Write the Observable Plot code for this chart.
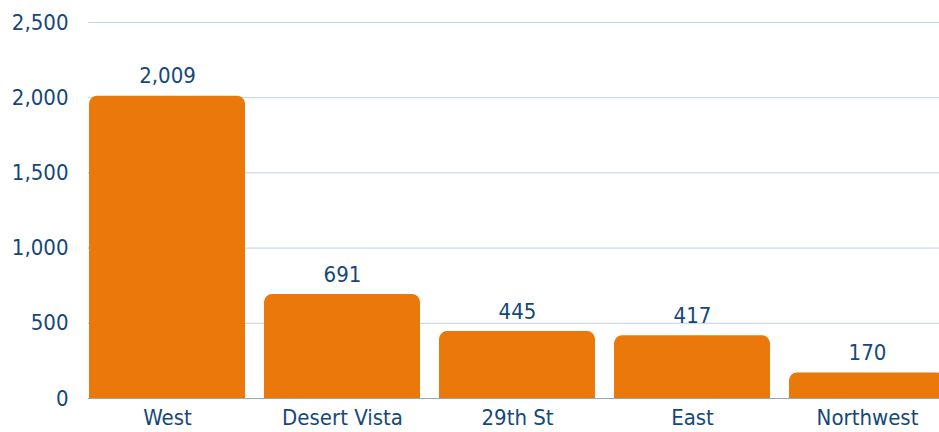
<!DOCTYPE html>
<html><head><meta charset="utf-8">
<script src="https://cdn.jsdelivr.net/npm/d3@7"></script>
<script src="https://cdn.jsdelivr.net/npm/@observablehq/plot@0.6"></script>
<style>
html,body{margin:0;padding:0;background:#fff;overflow:hidden;}
#chart svg{max-width:none !important;display:block;}
</style></head><body><div id="chart"></div>
<script>
const categories = ["West", "Desert Vista", "29th St", "East", "Northwest"];
const values = [2009, 691, 445, 417, 170];
const yTicks = [0, 500, 1000, 1500, 2000, 2500];

const data = categories.map((c, i) => ({category: c, value: values[i]}));
const ink = "#154879";
const fmt = d3.format(",");

const chart = Plot.plot({
  width: 947,
  height: 432,
  marginLeft: 88,
  marginRight: 0,
  marginTop: 22,
  marginBottom: 34,
  style: {fontFamily: "'DejaVu Sans Condensed', 'DejaVu Sans', sans-serif", fontSize: "22px", color: ink, background: "#fff"},
  x: {domain: categories, paddingInner: 0.106, paddingOuter: 0.006, align: 0.5, label: null, tickSize: 0, tickPadding: 11},
  y: {domain: [0, 2500], ticks: yTicks, tickFormat: fmt, label: null, tickSize: 0, tickPadding: 20},
  marks: [
    Plot.ruleY(yTicks.filter(d => d > 0), {stroke: "#c3d1e0", strokeWidth: 1}),
    Plot.barY(data, {x: "category", y: "value", fill: "#EB780A", ry1: 8}),
    Plot.ruleY([0], {stroke: "#8fa8c3", strokeWidth: 1}),
    Plot.text(data, {x: "category", y: "value", text: d => fmt(d.value), dy: -13, lineAnchor: "bottom", fill: ink, fontSize: 22})
  ]
});
document.getElementById("chart").appendChild(chart);
</script></body></html>
